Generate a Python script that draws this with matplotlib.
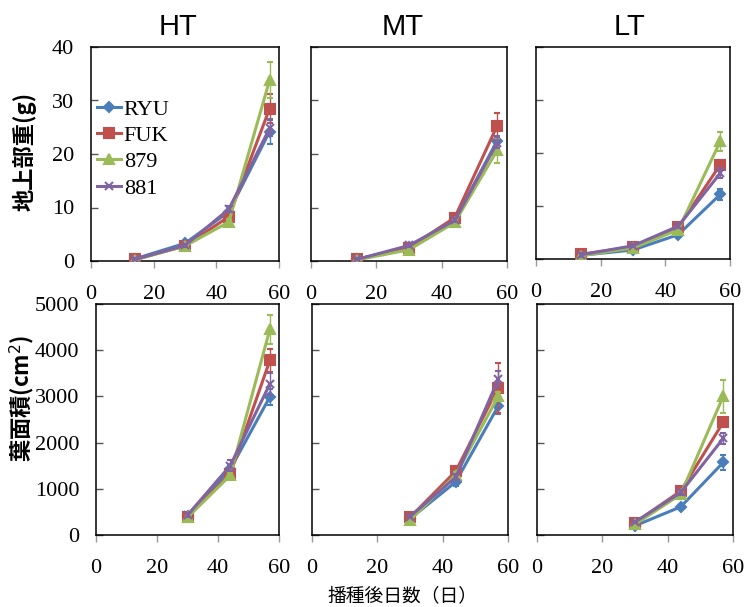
import matplotlib
matplotlib.use('Agg')
from matplotlib import pyplot as plt
import numpy as np

# sampling days
days_dw = [14, 30, 44, 57]
days_la = [30, 44, 57]

cultivars = ['RYU', 'FUK', '879', '881']
colors = ['#4A7EBB', '#C0504D', '#9BBB59', '#8064A2']
markers = ['D', 's', '^', 'x']
msizes = [5, 6.5, 7, 6]

temps = ['HT', 'MT', 'LT']

# shoot dry weight (g), per temperature, per cultivar
dw_HT = [[0.4, 3.3, 9.2, 24.2], [0.3, 2.8, 8.3, 28.5], [0.2, 2.8, 7.3, 33.8], [0.3, 2.9, 9.7, 24.8]]
dw_HT_err = [[0.1, 0.3, 0.6, 2.3], [0.1, 0.3, 0.8, 2.7], [0.1, 0.3, 0.5, 3.4], [0.1, 0.3, 0.6, 1.5]]
dw_MT = [[0.3, 2.6, 7.6, 22.5], [0.3, 2.5, 8.1, 25.3], [0.2, 2.1, 7.2, 20.7], [0.3, 2.9, 7.6, 22.1]]
dw_MT_err = [[0.1, 0.2, 0.4, 0.8], [0.1, 0.2, 0.5, 2.3], [0.1, 0.2, 0.4, 2.3], [0.1, 0.2, 0.4, 1.0]]
dw_LT = [[0.7, 1.7, 4.6, 12.2], [0.9, 2.3, 6.0, 17.8], [0.6, 2.1, 5.5, 22.2], [0.8, 2.5, 6.2, 16.2]]
dw_LT_err = [[0.3, 0.2, 0.4, 1.0], [0.5, 0.3, 0.5, 0.8], [0.3, 0.3, 0.4, 1.8], [0.4, 0.3, 0.4, 1.0]]

# leaf area (cm2)
la_HT = [[420, 1420, 2990], [400, 1320, 3780], [380, 1290, 4450], [430, 1500, 3270]]
la_HT_err = [[40, 90, 180], [40, 80, 250], [30, 70, 320], [40, 120, 240]]
la_MT = [[350, 1150, 2790], [380, 1380, 3190], [320, 1300, 3000], [400, 1250, 3370]]
la_MT_err = [[30, 80, 170], [40, 80, 540], [30, 70, 100], [40, 70, 170]]
la_LT = [[200, 610, 1570], [270, 950, 2440], [230, 880, 3000], [280, 920, 2090]]
la_LT_err = [[30, 40, 170], [30, 50, 80], [30, 50, 350], [30, 50, 110]]

dw = [dw_HT, dw_MT, dw_LT]
dw_err = [dw_HT_err, dw_MT_err, dw_LT_err]
la = [la_HT, la_MT, la_LT]
la_err = [la_HT_err, la_MT_err, la_LT_err]

W, H = 745, 607
fig = plt.figure(figsize=(W / 100, H / 100), dpi=100)

serif = 'Liberation Serif'
cjk = ['Noto Sans CJK JP', 'DejaVu Sans']


def box(l, r, t, b):
    return [l / W, 1 - b / H, (r - l) / W, (b - t) / H]


top_boxes = [box(91, 279, 47, 261), box(311, 507, 47, 261), box(536, 730, 47, 259)]
bot_boxes = [box(96, 279, 304, 535), box(312, 508, 304, 535), box(537, 733, 304, 535)]


def style(ax, ymax, ystep, show_y):
    ax.set_xlim(0, 60)
    ax.set_ylim(0, ymax)
    ax.set_xticks([0, 20, 40, 60])
    ax.set_yticks(np.arange(0, ymax + 1, ystep))
    ax.tick_params(axis='x', direction='out', length=5, width=1, color='#999999',
                   pad=12, labelsize=16)
    ax.tick_params(axis='y', direction='in', length=5, width=1, color='#555555',
                   pad=12, labelsize=16, labelleft=show_y)
    for lab in ax.get_xticklabels() + ax.get_yticklabels():
        lab.set_fontfamily(serif)
    for s in ax.spines.values():
        s.set_linewidth(1.1)
        s.set_color('black')


def draw(ax, x, series, errs):
    for i in range(len(cultivars)):
        ax.errorbar(x, series[i], yerr=errs[i], color=colors[i], marker=markers[i],
                    ms=msizes[i], mew=1.5, lw=2.2, elinewidth=1, capsize=2.5,
                    capthick=1, ecolor=colors[i], label=cultivars[i], zorder=3 + i)


for k in range(3):
    ax = fig.add_axes(top_boxes[k])
    draw(ax, days_dw, dw[k], dw_err[k])
    style(ax, 40, 10, k == 0)
    if k == 0:
        handles, labels = ax.get_legend_handles_labels()
        handles = [h[0] for h in handles]
        ax.legend(handles, labels, loc='upper left', bbox_to_anchor=(97 / W, 1 - 99 / H),
                  bbox_transform=fig.transFigure, frameon=False,
                  prop={'family': serif, 'size': 16}, handlelength=1.1,
                  handletextpad=0.1, labelspacing=0.26, borderaxespad=0, borderpad=0)

    ax2 = fig.add_axes(bot_boxes[k])
    draw(ax2, days_la, la[k], la_err[k])
    style(ax2, 5000, 1000, k == 0)

# panel titles
for name, xc in zip(temps, [178, 403, 630]):
    fig.text(xc / W, 1 - 27 / H, name, ha='center', va='center',
             family='Liberation Sans', fontsize=21)

fig.text(25 / W, 1 - 151 / H, '地上部重(g)', rotation=90, ha='center', va='center',
         family=cjk, fontsize=16, weight='bold')
fig.text(22 / W, 1 - 398 / H, '葉面積(cm$^2$)', rotation=90, ha='center', va='center',
         family=cjk, fontsize=16, weight='bold')
fig.text(402 / W, 1 - 596 / H, '播種後日数（日）', ha='center', va='center',
         family=cjk, fontsize=13.5)

fig.savefig('out.png', dpi=100)
